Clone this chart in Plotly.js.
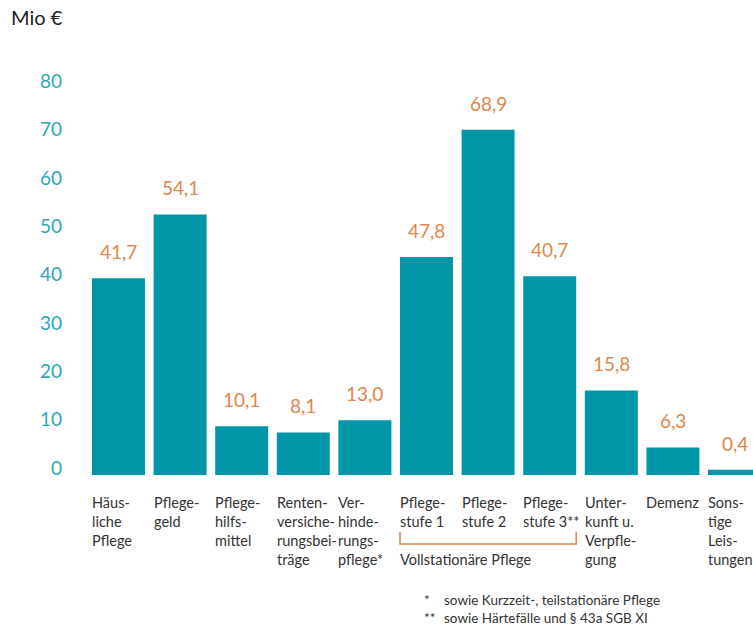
<!DOCTYPE html>
<html>
<head>
<meta charset="utf-8">
<script src="https://cdn.plot.ly/plotly-3.0.1.min.js"></script>
<style>html,body{margin:0;padding:0;background:#fff;}#chart{width:753px;height:629px;}</style>
</head>
<body>
<div id="chart"></div>
<script>
// Categories (line breaks as in the original)
const categories = [
  "Häus-<br>liche<br>Pflege",
  "Pflege-<br>geld",
  "Pflege-<br>hilfs-<br>mittel",
  "Renten-<br>versiche-<br>rungsbei-<br>träge",
  "Ver-<br>hinde-<br>rungs-<br>pflege*",
  "Pflege-<br>stufe 1",
  "Pflege-<br>stufe 2",
  "Pflege-<br>stufe 3**",
  "Unter-<br>kunft u.<br>Verpfle-<br>gung",
  "Demenz",
  "Sons-<br>tige<br>Leis-<br>tungen"
];
// Printed values (Mio €)
const labelValues = [41.7, 54.1, 10.1, 8.1, 13.0, 47.8, 68.9, 40.7, 15.8, 6.3, 0.4];
// Bar heights as drawn in the picture
const barHeights = [40.7, 53.9, 10.1, 8.8, 11.3, 45.1, 71.4, 41.1, 17.5, 5.7, 1.1];
const yTicks = [0, 10, 20, 30, 40, 50, 60, 70, 80];
const groupLabel = "Vollstationäre Pflege";
const groupFrom = 5, groupTo = 7; // 0-based indices of bracketed bars
const footMarks = ["*", "**"];
const footTexts = ["sowie Kurzzeit-, teilstationäre Pflege", "sowie Härtefälle und § 43a SGB XI"];
const unitLabel = "Mio €";

const FONT = "Lato, 'Open Sans', sans-serif";
const TEAL = "#0096A7";
const ORANGE = "#E0874A";
const TICK = "#2FA7B9";
const DARK = "#333333";
const BARW = 0.86;
const xs = categories.map((_, i) => i);

const annotations = [];
// value labels
xs.forEach(i => {
  annotations.push({
    x: i, y: barHeights[i], xref: 'x', yref: 'y',
    text: labelValues[i].toFixed(1).replace('.', ','),
    showarrow: false, yanchor: 'bottom', xanchor: 'center', yshift: 13,
    font: {family: FONT, size: 19, color: ORANGE}
  });
});
// category labels
xs.forEach(i => {
  annotations.push({
    x: i - BARW / 2, y: 0, xref: 'x', yref: 'y',
    text: categories[i], align: 'left',
    showarrow: false, xanchor: 'left', yanchor: 'top', yshift: -17, xshift: -2,
    font: {family: FONT, size: 14.5, color: DARK}
  });
});
// group label
annotations.push({
  x: groupFrom - BARW / 2, y: 0, xref: 'x', yref: 'y',
  text: groupLabel, showarrow: false, xanchor: 'left', yanchor: 'middle', yshift: -84, xshift: -2,
  font: {family: FONT, size: 14.5, color: DARK}
});
// footnotes
annotations.push({
  x: 0.5155, y: -0.3265, xref: 'paper', yref: 'paper',
  text: footMarks.join('<br>'), align: 'left', showarrow: false, xanchor: 'left', yanchor: 'middle',
  font: {family: FONT, size: 13.5, color: DARK}
});
annotations.push({
  x: 0.5445, y: -0.3265, xref: 'paper', yref: 'paper',
  text: footTexts.join('<br>'), align: 'left', showarrow: false, xanchor: 'left', yanchor: 'middle',
  font: {family: FONT, size: 13.5, color: DARK}
});

const shapes = [{
  type: 'path', xref: 'x', yref: 'paper',
  path: `M ${groupFrom - BARW/2} -0.138 L ${groupFrom - BARW/2} -0.168 L ${groupTo + BARW/2} -0.168 L ${groupTo + BARW/2} -0.138`,
  line: {color: ORANGE, width: 1.5}
}];

const data = [{
  type: 'bar', x: xs, y: barHeights, width: BARW,
  marker: {color: TEAL, line: {width: 0}},
  hoverinfo: 'skip'
}];

const layout = {
  width: 753, height: 629,
  margin: {l: 70, r: 0, t: 64, b: 154},
  paper_bgcolor: '#ffffff', plot_bgcolor: '#ffffff',
  showlegend: false,
  title: {text: unitLabel, x: 0.0146, xanchor: 'left', xref: 'container', y: 0.971, yanchor: 'middle', yref: 'container',
          font: {family: FONT, size: 20, color: '#222222'}},
  xaxis: {range: [-0.787, 10.30], showticklabels: false, showgrid: false, zeroline: false, showline: false, ticks: '', fixedrange: true},
  yaxis: {range: [0, 85], tickvals: yTicks, ticktext: yTicks.map(String), showgrid: false, zeroline: false, showline: false, ticks: '',
          ticklabelposition: 'outside', ticklabelshift: -7, ticklabelstandoff: 7,
          tickfont: {family: FONT, size: 19, color: TICK}, fixedrange: true},
  annotations: annotations,
  shapes: shapes
};

Plotly.newPlot('chart', data, layout, {displayModeBar: false, staticPlot: true});
</script>
</body>
</html>
